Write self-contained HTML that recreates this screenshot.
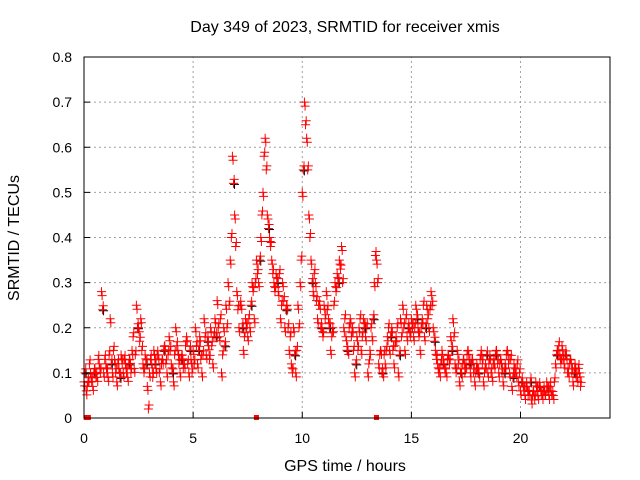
<!DOCTYPE html>
<html><head><meta charset="utf-8"><style>
body{margin:0;background:#fff;}
svg{display:block;font-family:"Liberation Sans",sans-serif;}
</style></head><body>
<svg id="chart" width="640" height="480" xmlns="http://www.w3.org/2000/svg">
<rect width="640" height="480" fill="#fff"/>
<g id="grid"></g>
<g id="pts"></g>
<g id="axes"></g>
<text x="345" y="32" text-anchor="middle" font-size="16">Day 349 of 2023, SRMTID for receiver xmis</text>
<text x="345" y="471" text-anchor="middle" font-size="16">GPS time / hours</text>
<text transform="translate(19,238) rotate(-90)" text-anchor="middle" font-size="16">SRMTID / TECUs</text>
</svg>
<script>
const xTicks=[0,5,10,15,20];
const yTicks=[0,0.1,0.2,0.3,0.4,0.5,0.6,0.7,0.8];
const yTickLabels=["0","0.1","0.2","0.3","0.4","0.5","0.6","0.7","0.8"];
const valuesA=[0.08,0.06,0.09,0.1,0.07,0.11,0.09,0.12,0.28,0.1,
0.12,0.09,0.22,0.1,0.13,0.08,0.11,0.14,0.1,0.12,
0.09,0.13,0.15,0.11,0.25,0.2,0.22,0.12,0.14,0.07,
0.1,0.12,0.15,0.11,0.14,0.08,0.13,0.16,0.1,0.18,
0.12,0.08,0.2,0.15,0.1,0.14,0.12,0.18,0.1,0.13,
0.15,0.2,0.12,0.18,0.1,0.22,0.14,0.16,0.2,0.12,
0.22,0.26,0.18,0.1,0.2,0.25,0.3,0.35,0.58,0.45,
0.28,0.2,0.25,0.15,0.22,0.18,0.2,0.3,0.22,0.35,
0.3,0.4,0.5,0.62,0.45,0.4,0.35,0.3,0.32,0.28,
0.22,0.3,0.2,0.25,0.15,0.12,0.2,0.1,0.25,0.3,
0.5,0.7,0.62,0.45,0.35,0.28,0.3,0.22,0.25,0.2,
0.25,0.28,0.22,0.15,0.2,0.3,0.32,0.35,0.38,0.2,
0.18,0.15,0.22,0.2,0.1,0.18,0.2,0.15,0.22,0.18,
0.1,0.15,0.18,0.3,0.35,0.12,0.15,0.1,0.12,0.18,
0.15,0.2,0.12,0.18,0.1,0.22,0.25,0.15,0.18,0.2,
0.22,0.18,0.25,0.2,0.15,0.22,0.18,0.25,0.2,0.28,
0.2,0.15,0.12,0.1,0.15,0.12,0.1,0.14,0.18,0.22,
0.12,0.15,0.08,0.1,0.13,0.12,0.15,0.1,0.13,0.08,
0.12,0.1,0.15,0.08,0.12,0.1,0.14,0.09,0.12,0.15,
0.1,0.13,0.08,0.12,0.15,0.1,0.07,0.12,0.1,0.08,
0.06,0.08,0.05,0.07,0.06,0.04,0.06,0.08,0.05,0.07,
0.05,0.06,0.08,0.05,0.06,0.05,0.12,0.15,0.14,0.16,
0.12,0.14,0.1,0.13,0.08,0.12,0.09,0.1];
const valuesB=[0.1,0.07,0.12,0.08,0.1,0.09,0.13,0.1,0.24,0.13,
0.1,0.14,0.12,0.15,0.1,0.12,0.09,0.12,0.13,0.1,
0.12,0.1,0.18,0.14,0.2,0.17,0.15,0.1,0.12,0.02,
0.13,0.09,0.12,0.14,0.1,0.12,0.15,0.12,0.14,0.15,
0.1,0.14,0.16,0.12,0.13,0.11,0.16,0.12,0.15,0.1,
0.12,0.16,0.15,0.13,0.14,0.18,0.17,0.13,0.16,0.18,
0.18,0.2,0.22,0.14,0.16,0.2,0.25,0.4,0.52,0.38,
0.24,0.25,0.2,0.18,0.2,0.22,0.25,0.28,0.3,0.32,
0.35,0.45,0.58,0.55,0.42,0.38,0.32,0.28,0.3,0.32,
0.25,0.26,0.24,0.2,0.18,0.1,0.14,0.15,0.2,0.35,
0.55,0.65,0.55,0.4,0.3,0.32,0.26,0.25,0.2,0.18,
0.22,0.24,0.2,0.18,0.25,0.28,0.3,0.33,0.3,0.22,
0.15,0.2,0.18,0.15,0.12,0.15,0.22,0.18,0.2,0.2,
0.12,0.2,0.22,0.36,0.3,0.14,0.1,0.14,0.15,0.2,
0.18,0.15,0.16,0.2,0.14,0.18,0.2,0.22,0.2,0.18,
0.2,0.2,0.22,0.18,0.2,0.25,0.2,0.22,0.24,0.25,
0.17,0.13,0.1,0.12,0.12,0.1,0.13,0.12,0.15,0.18,
0.1,0.12,0.1,0.12,0.1,0.14,0.12,0.12,0.1,0.1,
0.1,0.13,0.12,0.1,0.14,0.12,0.1,0.12,0.14,0.12,
0.12,0.1,0.1,0.14,0.12,0.13,0.09,0.1,0.12,0.1,
0.08,0.06,0.07,0.05,0.08,0.05,0.04,0.06,0.07,0.05,
0.06,0.05,0.06,0.07,0.05,0.08,0.14,0.16,0.12,0.13,
0.14,0.1,0.12,0.1,0.1,0.09,0.11,0.07];
const flagTimes=[0.1,0.2,7.9,13.4];
const X0=84,X1=610,Y0=418,Y1=57;
const xMax=24.1,yMax=0.8;
const sx=v=>X0+v/xMax*(X1-X0);
const sy=v=>Y0-v/yMax*(Y0-Y1);
const NS="http://www.w3.org/2000/svg";
function mk(tag,attrs,parent){const e=document.createElementNS(NS,tag);for(const k in attrs)e.setAttribute(k,attrs[k]);parent.appendChild(e);return e;}
const grid=document.getElementById('grid'),axes=document.getElementById('axes'),pts=document.getElementById('pts');
xTicks.forEach(t=>{
 if(t>0){const l=mk('line',{x1:sx(t),x2:sx(t),y1:Y0,y2:Y1,stroke:'#a0a0a0','stroke-dasharray':'2,3'},grid);
 
 }
 const tk=mk('line',{x1:sx(t),x2:sx(t),y1:Y0,y2:Y0-6,stroke:'#000'},axes);
 
 
 const tx=mk('text',{x:sx(t),y:Y0+25,'text-anchor':'middle','font-size':14},axes);
 tx.textContent=t;
 
 
});
yTicks.forEach((t,i)=>{
 if(t>0&&t<0.8){const l=mk('line',{x1:X0,x2:X1,y1:sy(t),y2:sy(t),stroke:'#a0a0a0','stroke-dasharray':'2,3'},grid);
 
 }
 const tk=mk('line',{x1:X0,x2:X0+6,y1:sy(t),y2:sy(t),stroke:'#000'},axes);
 
 
 const tx=mk('text',{x:X0-12,y:sy(t)+5,'text-anchor':'end','font-size':14},axes);
 tx.textContent=yTickLabels[i];
 
 
});
const b=mk('rect',{x:X0,y:Y1,width:X1-X0,height:Y0-Y1,fill:'none',stroke:'#000'},axes);


function plus(x,y,c,name){
 const p=mk('path',{d:`M${x-4.5},${y}h9M${x},${y-4.5}v9`,stroke:c,'stroke-width':1,fill:'none'},pts);
 
 
}
valuesB.forEach((v,i)=>{if(i%4===0){const t=i*0.1+0.05;plus(sx(t)+1,sy(v)+1,'#000','point-black');}});
valuesA.forEach((v,i)=>{const t=i*0.1;plus(sx(t),sy(v),'#f00','point-a');});
valuesB.forEach((v,i)=>{const t=i*0.1+0.05;plus(sx(t),sy(v),'#f00','point-b');});
valuesA.forEach((v,i)=>{const t=i*0.1+0.03;plus(sx(t),sy(v)+4,'#f00','point-a2');});
valuesB.forEach((v,i)=>{const t=i*0.1+0.08;plus(sx(t),sy(v)-4,'#f00','point-b2');});
flagTimes.forEach(t=>{const r=mk('rect',{x:sx(t)-2.5,y:Y0-3,width:5,height:5,fill:'#f00'},pts);
 
 });
</script>
</body></html>
